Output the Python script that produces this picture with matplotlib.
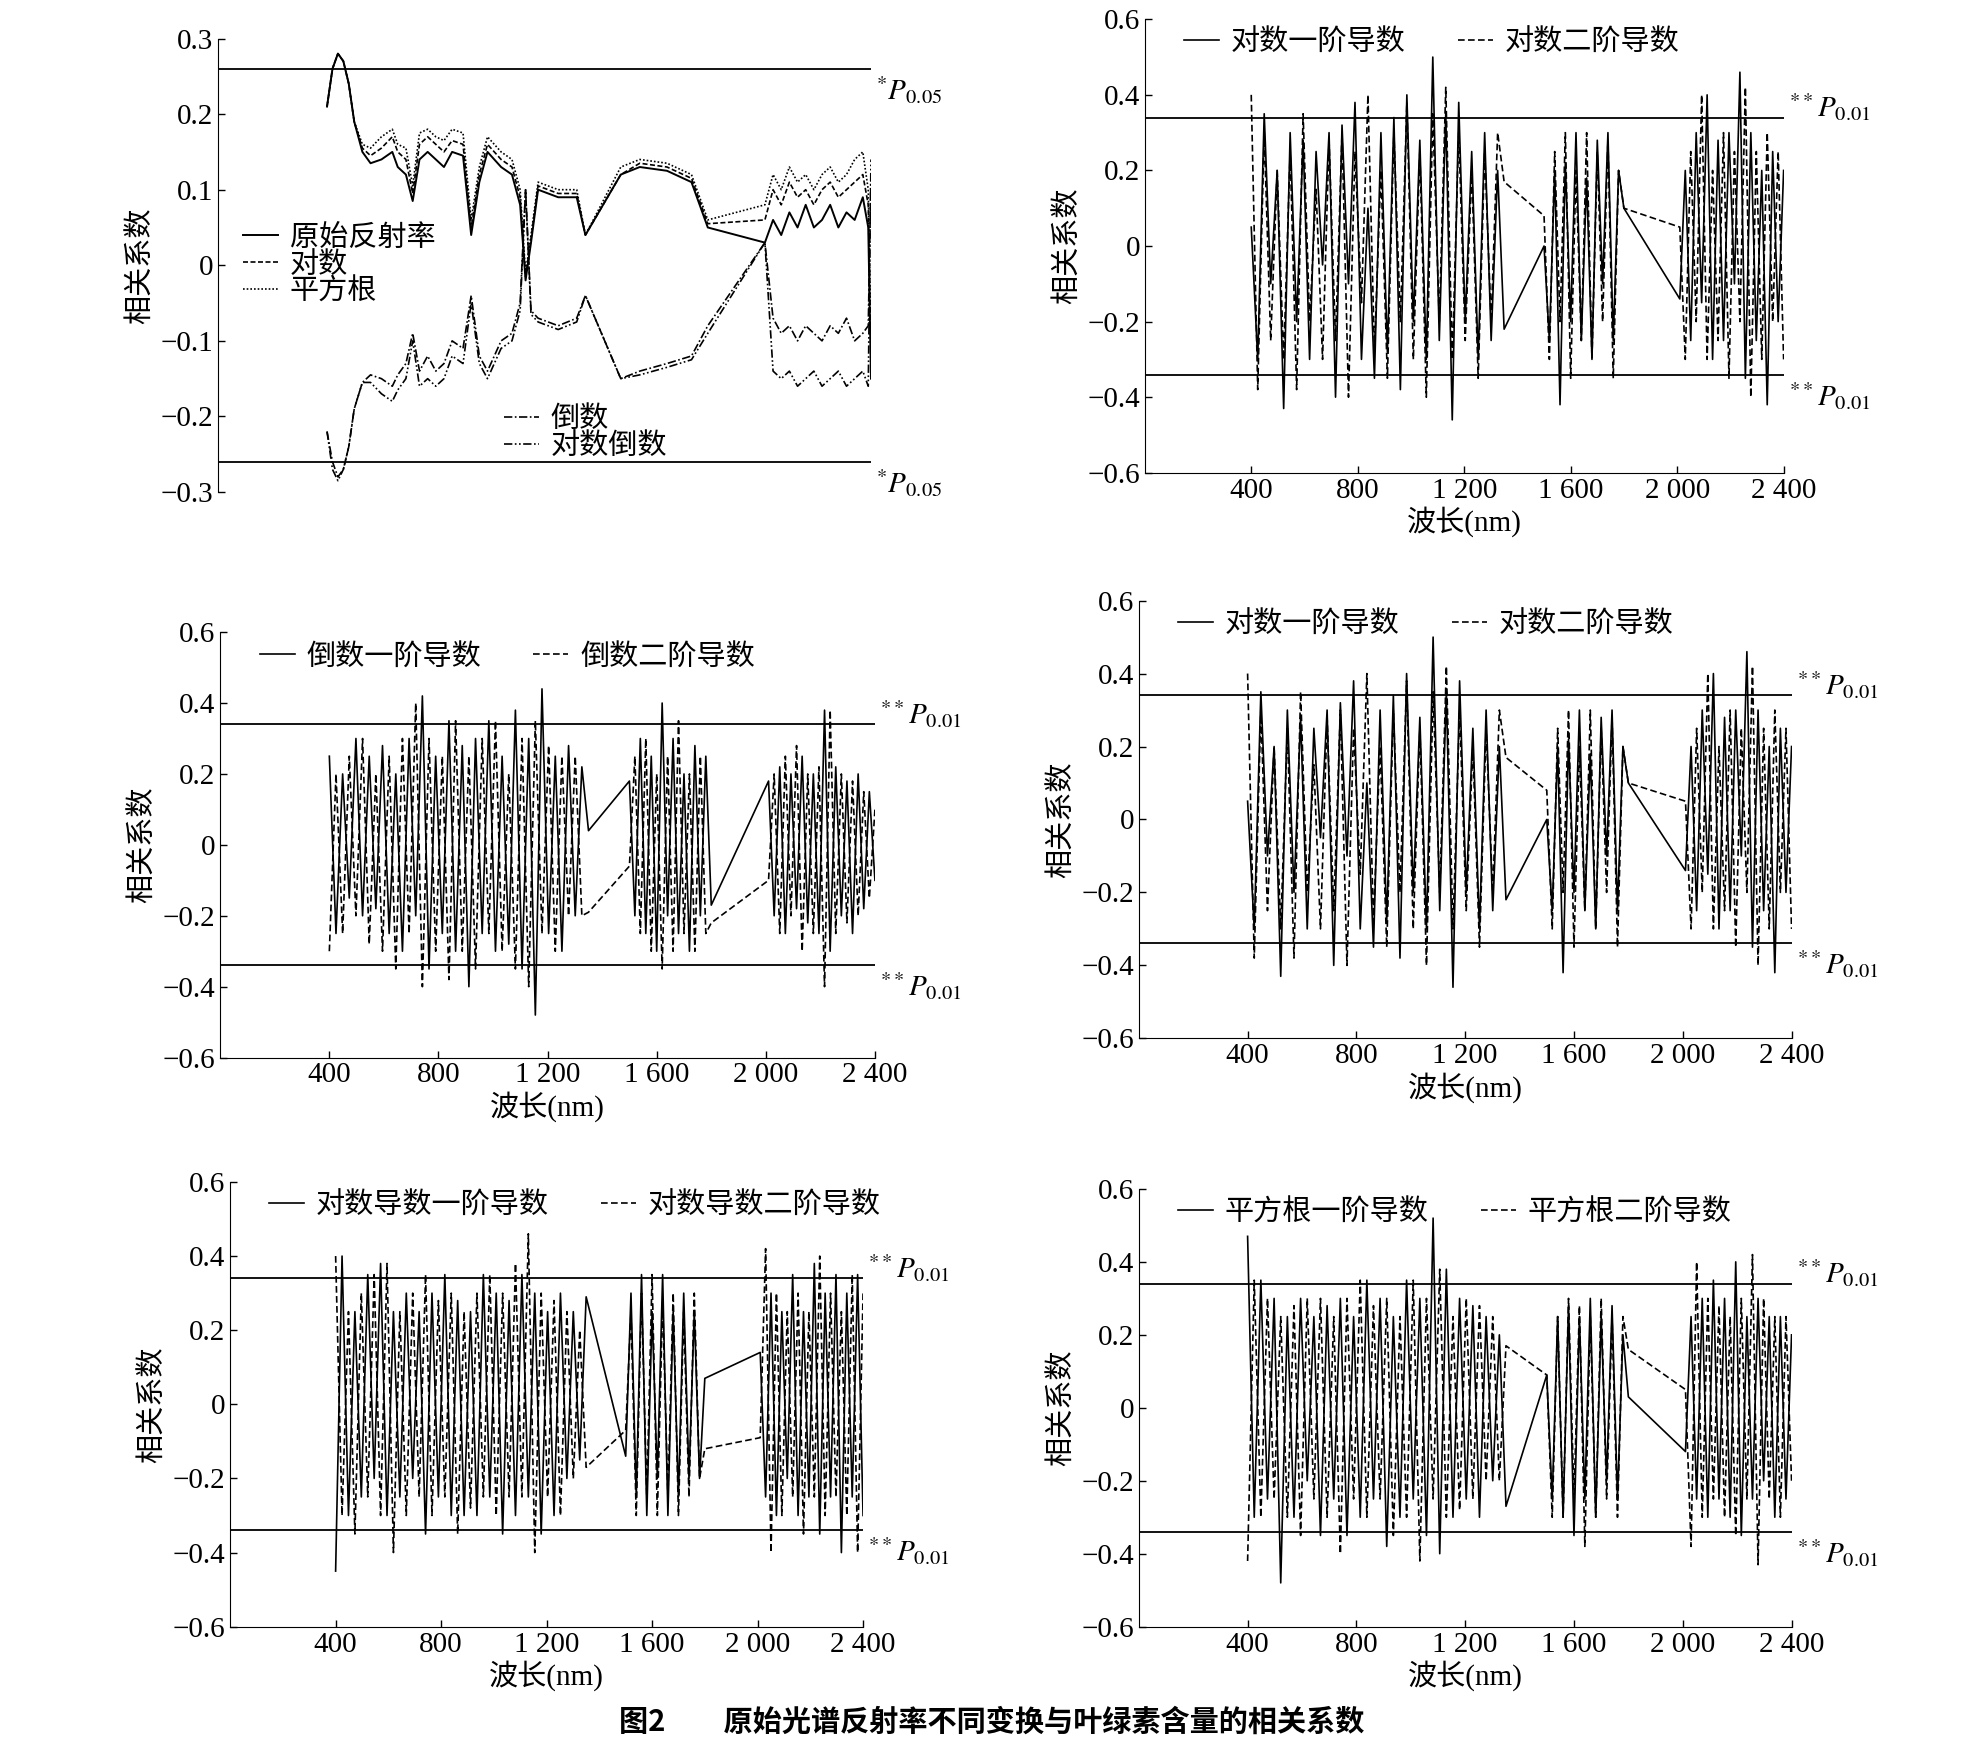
import numpy as np
import matplotlib
matplotlib.use("Agg")
import matplotlib.pyplot as plt

plt.rcParams['font.family'] = ['Liberation Serif', 'Noto Sans CJK SC']
plt.rcParams['mathtext.fontset'] = 'stix'
plt.rcParams['axes.unicode_minus'] = True

# ---------- Panel 1 data (key points) ----------
wl1 = [400, 420, 440, 460, 480, 500, 530, 560, 600, 640, 660, 690, 715, 740, 770, 800, 830, 860, 900, 930, 960, 990,
       1040, 1080, 1110, 1130, 1150, 1176, 1250, 1318, 1350]
raw = [0.21, 0.26, 0.28, 0.27, 0.24, 0.19, 0.15, 0.135, 0.14, 0.15, 0.13, 0.12, 0.085, 0.14, 0.15, 0.14, 0.13, 0.15,
       0.145, 0.04, 0.11, 0.15, 0.13, 0.12, 0.08, -0.02, 0.03, 0.10, 0.09, 0.09, 0.04]
log_add = [0, 0, 0, 0, 0, 0, 0.005, 0.01, 0.015, 0.02, 0.02, 0.02, 0.01, 0.02, 0.02, 0.02, 0.02, 0.015, 0.015, 0.01,
           0.01, 0.01, 0.01, 0.01, 0.01, 0.005, 0.005, 0.005, 0.005, 0.005, 0.0]
sqrt_add = [0, 0, 0, 0, 0, 0, 0.01, 0.02, 0.03, 0.03, 0.03, 0.035, 0.02, 0.035, 0.03, 0.03, 0.035, 0.03, 0.03, 0.02,
            0.02, 0.02, 0.02, 0.02, 0.02, 0.01, 0.01, 0.01, 0.01, 0.01, 0.0]
wl1b = [1480, 1550, 1650, 1740, 1800]
raw_b = [0.12, 0.13, 0.125, 0.11, 0.05]
log_b = [0.12, 0.135, 0.13, 0.115, 0.055]
sqrt_b = [0.13, 0.14, 0.135, 0.12, 0.06]
wl1c = [2010, 2040, 2070, 2100, 2130, 2160, 2190, 2220, 2250, 2280, 2310, 2340, 2370, 2390, 2400]
raw_c = [0.03, 0.06, 0.04, 0.07, 0.05, 0.08, 0.05, 0.06, 0.08, 0.05, 0.07, 0.06, 0.09, 0.05, -0.15]
log_c = [0.06, 0.10, 0.08, 0.11, 0.09, 0.10, 0.08, 0.10, 0.11, 0.09, 0.10, 0.11, 0.12, 0.08, -0.12]
sqrt_c = [0.08, 0.12, 0.10, 0.13, 0.11, 0.12, 0.10, 0.12, 0.13, 0.11, 0.12, 0.14, 0.15, 0.10, -0.10]

rec = [-0.22, -0.26, -0.28, -0.27, -0.24, -0.19, -0.155, -0.145, -0.15, -0.16, -0.145, -0.13, -0.09, -0.14, -0.12, -0.14,
       -0.13, -0.10, -0.11, -0.04, -0.12, -0.14, -0.10, -0.09, -0.05, 0.10, -0.06, -0.07, -0.08, -0.07, -0.04]
lrec_add = [0, -0.01, -0.005, 0, 0, 0, 0, -0.01, -0.02, -0.02, -0.02, -0.02, -0.01, -0.02, -0.03, -0.02, -0.02, -0.02,
            -0.02, -0.01, -0.01, -0.01, -0.01, -0.01, -0.01, 0.0, -0.005, -0.005, -0.005, -0.005, 0.0]
rec_b = [-0.15, -0.14, -0.13, -0.12, -0.08]
lrec_b = [-0.15, -0.145, -0.135, -0.125, -0.09]
rec_c = [0.03, -0.07, -0.09, -0.08, -0.10, -0.08, -0.09, -0.10, -0.08, -0.09, -0.07, -0.10, -0.09, -0.08, 0.12]
lrec_c = [0.03, -0.14, -0.15, -0.14, -0.16, -0.15, -0.14, -0.16, -0.15, -0.14, -0.16, -0.15, -0.14, -0.16, 0.14]

# ---------- derivative panels: values per segment (seg lengths 40,16,20) ----------
segs = [(400, 1350), (1500, 1800), (2010, 2400)]
lens = [40, 16, 20]

p2_first = [0.05, -0.30, 0.35, -0.10, 0.20, -0.43, 0.30, -0.20, 0.28, -0.30, 0.25, -0.05, 0.30, -0.40, 0.32, -0.10,
            0.38, -0.30, 0.10, -0.35, 0.30, -0.28, 0.34, -0.38, 0.40, -0.20, 0.28, -0.30, 0.50, -0.25, 0.35, -0.46,
            0.38, -0.20, 0.25, -0.30, 0.30, -0.25, 0.20, -0.22,
            0.00, -0.25, 0.20, -0.42, 0.22, -0.20, 0.30, -0.25, 0.18, -0.30, 0.28, -0.10, 0.30, -0.25, 0.20, 0.10,
            -0.14, 0.20, -0.25, 0.30, -0.15, 0.40, -0.30, 0.28, -0.25, 0.30, -0.10, 0.46, -0.35, 0.30, -0.25, 0.20,
            -0.42, 0.25, -0.20, 0.20]
p2_second = [0.40, -0.38, 0.30, -0.25, 0.20, -0.30, 0.25, -0.38, 0.35, -0.20, 0.15, -0.30, 0.28, -0.25, 0.30, -0.40,
             0.25, -0.15, 0.40, -0.28, 0.20, -0.35, 0.30, -0.20, 0.38, -0.30, 0.25, -0.40, 0.35, -0.20, 0.42, -0.30,
             0.30, -0.25, 0.20, -0.35, 0.25, -0.20, 0.30, 0.17,
             0.08, -0.30, 0.25, -0.20, 0.30, -0.35, 0.20, -0.25, 0.30, -0.30, 0.25, -0.20, 0.28, -0.35, 0.20, 0.10,
             0.05, -0.30, 0.25, -0.20, 0.40, -0.30, 0.20, -0.25, 0.30, -0.35, 0.25, -0.20, 0.42, -0.40, 0.25, -0.30,
             0.30, -0.20, 0.25, -0.30]

p3_first = [0.25, -0.25, 0.20, -0.15, 0.30, -0.20, 0.25, -0.18, 0.28, -0.25, 0.20, -0.30, 0.30, -0.20, 0.42, -0.35,
            0.25, -0.25, 0.35, -0.30, 0.28, -0.40, 0.30, -0.25, 0.35, -0.30, 0.25, -0.28, 0.38, -0.35, 0.30, -0.48,
            0.44, -0.25, 0.25, -0.30, 0.28, -0.20, 0.22, 0.04,
            0.18, -0.20, 0.30, -0.25, 0.25, -0.30, 0.40, -0.20, 0.30, -0.25, 0.20, -0.30, 0.28, -0.20, 0.25, -0.17,
            0.18, -0.20, 0.22, -0.25, 0.20, -0.18, 0.25, -0.22, 0.20, -0.25, 0.38, -0.30, 0.22, -0.20, 0.18, -0.25,
            0.20, -0.18, 0.15, -0.10]
p3_second = [-0.30, 0.20, -0.25, 0.25, -0.20, 0.30, -0.28, 0.20, -0.30, 0.25, -0.35, 0.30, -0.25, 0.40, -0.40, 0.30,
             -0.30, 0.25, -0.38, 0.35, -0.30, 0.25, -0.35, 0.30, -0.25, 0.35, -0.30, 0.20, -0.35, 0.30, -0.40, 0.35,
             -0.25, 0.28, -0.30, 0.25, -0.20, 0.25, -0.20, -0.19,
             -0.06, 0.25, -0.25, 0.30, -0.30, 0.20, -0.35, 0.25, -0.30, 0.35, -0.25, 0.20, -0.30, 0.25, -0.25, -0.22,
             -0.10, 0.20, -0.25, 0.25, -0.20, 0.28, -0.30, 0.20, -0.25, 0.22, -0.40, 0.38, -0.25, 0.20, -0.22, 0.18,
             -0.20, 0.15, -0.15, 0.10]

p5_first = [-0.45, 0.40, -0.30, 0.25, -0.25, 0.35, -0.20, 0.38, -0.30, 0.25, -0.25, 0.30, -0.20, 0.25, -0.35, 0.30,
            -0.25, 0.35, -0.30, 0.28, -0.30, 0.25, -0.30, 0.35, -0.25, 0.30, -0.35, 0.28, -0.30, 0.35, -0.25, 0.30,
            -0.35, 0.25, -0.30, 0.30, -0.20, 0.25, -0.15, 0.29,
            -0.14, 0.30, -0.25, 0.35, -0.30, 0.25, -0.20, 0.35, -0.30, 0.25, -0.25, 0.30, -0.20, 0.25, -0.20, 0.07,
            0.14, -0.25, 0.30, -0.30, 0.25, -0.20, 0.35, -0.30, 0.25, -0.25, 0.38, -0.35, 0.30, -0.25, 0.35, -0.40,
            0.30, -0.25, 0.35, -0.30]
p5_second = [0.40, -0.30, 0.25, -0.35, 0.30, -0.25, 0.35, -0.30, 0.38, -0.40, 0.25, -0.30, 0.30, -0.25, 0.35, -0.30,
             0.28, -0.25, 0.30, -0.35, 0.25, -0.28, 0.30, -0.25, 0.35, -0.30, 0.30, -0.25, 0.38, -0.25, 0.46, -0.40,
             0.30, -0.25, 0.28, -0.30, 0.25, -0.20, 0.20, -0.17,
             -0.07, 0.25, -0.30, 0.30, -0.25, 0.35, -0.30, 0.28, -0.25, 0.30, -0.30, 0.25, -0.25, 0.30, -0.20, -0.12,
             -0.09, 0.42, -0.40, 0.30, -0.30, 0.25, -0.25, 0.30, -0.35, 0.25, -0.25, 0.40, -0.30, 0.30, -0.25, 0.25,
             -0.30, 0.35, -0.40, 0.30]

p6_first = [0.47, -0.30, 0.35, -0.25, 0.30, -0.48, 0.25, -0.30, 0.30, -0.20, 0.25, -0.35, 0.28, -0.25, 0.30, -0.35,
            0.25, -0.30, 0.35, -0.25, 0.30, -0.38, 0.25, -0.30, 0.35, -0.25, 0.30, -0.35, 0.52, -0.40, 0.38, -0.30,
            0.30, -0.25, 0.28, -0.30, 0.25, -0.20, 0.20, -0.27,
            0.09, -0.25, 0.25, -0.30, 0.28, -0.35, 0.25, -0.25, 0.30, -0.30, 0.25, -0.20, 0.28, -0.25, 0.20, 0.03,
            -0.12, 0.25, -0.25, 0.30, -0.30, 0.35, -0.25, 0.30, -0.30, 0.40, -0.35, 0.25, -0.25, 0.30, -0.20, 0.25,
            -0.30, 0.25, -0.25, 0.20]
p6_second = [-0.42, 0.35, -0.30, 0.30, -0.25, 0.25, -0.30, 0.28, -0.35, 0.30, -0.25, 0.30, -0.30, 0.25, -0.40, 0.30,
             -0.25, 0.35, -0.30, 0.28, -0.25, 0.30, -0.35, 0.25, -0.30, 0.35, -0.42, 0.30, -0.25, 0.38, -0.30, 0.25,
             -0.28, 0.30, -0.25, 0.28, -0.20, 0.25, -0.20, 0.17,
             0.09, -0.30, 0.25, -0.30, 0.30, -0.25, 0.28, -0.38, 0.25, -0.30, 0.30, -0.25, 0.25, -0.30, 0.25, 0.16,
             0.05, -0.38, 0.40, -0.30, 0.30, -0.25, 0.28, -0.30, 0.25, -0.35, 0.30, -0.25, 0.42, -0.43, 0.30, -0.25,
             0.25, -0.30, 0.25, -0.20]

xticks = [400, 800, 1200, 1600, 2000, 2400]
xticklabels = ['400', '800', '1 200', '1 600', '2 000', '2 400']

FS = 21
fig = plt.figure(figsize=(19.84, 17.51), dpi=100)
prop = {'family': ['Noto Sans CJK SC'], 'size': FS}


def fmt(v):
    if abs(v) < 1e-9:
        return '0'
    s = f'{v:.1f}'
    return s.replace('-', '\u2212')


def style(ax, ylim, yt, showx=True):
    ax.set_xlim(0, 2400)
    ax.set_ylim(*ylim)
    for s in ['top', 'right']:
        ax.spines[s].set_visible(False)
    ax.set_yticks(yt)
    ax.set_yticklabels([fmt(v) for v in yt], fontsize=FS)
    ax.tick_params(direction='in', length=5, width=1)
    ax.set_ylabel('相关系数', fontsize=FS, family=['Noto Sans CJK SC'])
    if showx:
        ax.set_xticks(xticks)
        ax.set_xticklabels(xticklabels, fontsize=FS)
        ax.set_xlabel('波长(nm)', fontsize=FS, labelpad=2)
    else:
        ax.spines['bottom'].set_visible(False)
        ax.set_xticks([])


def series_xy(vals):
    xs, ys = [], []
    i = 0
    for (a, b), n in zip(segs, lens):
        xs.extend(np.linspace(a, b, n))
        ys.extend(vals[i:i + n])
        i += n
    return xs, ys


def deriv_panel(rect, first, second, labels):
    ax = fig.add_axes(rect)
    x1, y1 = series_xy(first)
    x2, y2 = series_xy(second)
    ax.plot(x2, y2, color='black', lw=1.2, ls=(0, (4, 2)), label=labels[1])
    ax.plot(x1, y1, color='black', lw=1.2, label=labels[0])
    for t in (0.34, -0.34):
        ax.axhline(t, color='black', lw=1.3)
        ax.text(2420, t - 0.015, r'$^{**}\mathit{P}_{0.01}$', fontsize=FS, va='bottom' if t > 0 else 'top',
                ha='left', clip_on=False)
    style(ax, (-0.6, 0.6), [-0.6, -0.4, -0.2, 0, 0.2, 0.4, 0.6])
    h, l = ax.get_legend_handles_labels()
    ax.legend(h[::-1], l[::-1], ncol=2, loc='upper left', bbox_to_anchor=(0.02, 1.04), frameon=False,
              handlelength=1.2, handletextpad=0.4, columnspacing=1.8, prop=prop)
    return ax


# ---------- Panel 1 ----------
ax1 = fig.add_axes([0.110, 0.719, 0.329, 0.259])
logv = [r + d for r, d in zip(raw, log_add)]
sqv = [r + d for r, d in zip(raw, sqrt_add)]
lrec = [r + d for r, d in zip(rec, lrec_add)]
wl_all = wl1 + wl1b + wl1c
ax1.plot(wl_all, raw + raw_b + raw_c, color='black', lw=1.4, label='原始反射率')
ax1.plot(wl_all, logv + log_b + log_c, color='black', lw=1.2, ls=(0, (3, 1.5)), label='对数')
ax1.plot(wl_all, sqv + sqrt_b + sqrt_c, color='black', lw=1.2, ls=(0, (1, 1.2)), label='平方根')
l1 = ax1.get_legend_handles_labels()
r1, = ax1.plot(wl_all, rec + rec_b + rec_c, color='black', lw=1.2, ls=(0, (5, 1.5, 1, 1.5)), label='倒数')
r2, = ax1.plot(wl_all, lrec + lrec_b + lrec_c, color='black', lw=1.2, ls=(0, (5, 1.5, 1, 1.5, 1, 1.5)),
               label='对数倒数')
for t in (0.26, -0.26):
    ax1.axhline(t, color='black', lw=1.3)
    ax1.text(2420, t - 0.008, r'$^{*}\mathit{P}_{0.05}$', fontsize=FS, va='top', ha='left', clip_on=False)
style(ax1, (-0.3, 0.3), [-0.3, -0.2, -0.1, 0, 0.1, 0.2, 0.3], showx=False)
leg1 = ax1.legend(l1[0], l1[1], loc='upper left', bbox_to_anchor=(0.02, 0.62), frameon=False, prop=prop,
                  handlelength=1.2, handletextpad=0.4, labelspacing=-0.1, borderaxespad=0)
ax1.add_artist(leg1)
ax1.legend([r1, r2], ['倒数', '对数倒数'], loc='upper left', bbox_to_anchor=(0.42, 0.22), frameon=False, prop=prop,
           handlelength=1.2, handletextpad=0.4, labelspacing=-0.1, borderaxespad=0)

deriv_panel([0.577, 0.730, 0.322, 0.259], p2_first, p2_second, ['对数一阶导数', '对数二阶导数'])
deriv_panel([0.111, 0.396, 0.330, 0.243], p3_first, p3_second, ['倒数一阶导数', '倒数二阶导数'])
deriv_panel([0.574, 0.407, 0.329, 0.250], p2_first, p2_second, ['对数一阶导数', '对数二阶导数'])
deriv_panel([0.116, 0.071, 0.319, 0.254], p5_first, p5_second, ['对数导数一阶导数', '对数导数二阶导数'])
deriv_panel([0.574, 0.071, 0.329, 0.250], p6_first, p6_second, ['平方根一阶导数', '平方根二阶导数'])

fig.text(0.5, 0.008, '图2　　原始光谱反射率不同变换与叶绿素含量的相关系数', ha='center', va='bottom',
         fontsize=FS, fontweight='bold', family=['Noto Sans CJK SC'])

fig.savefig('out.png', dpi=100)
